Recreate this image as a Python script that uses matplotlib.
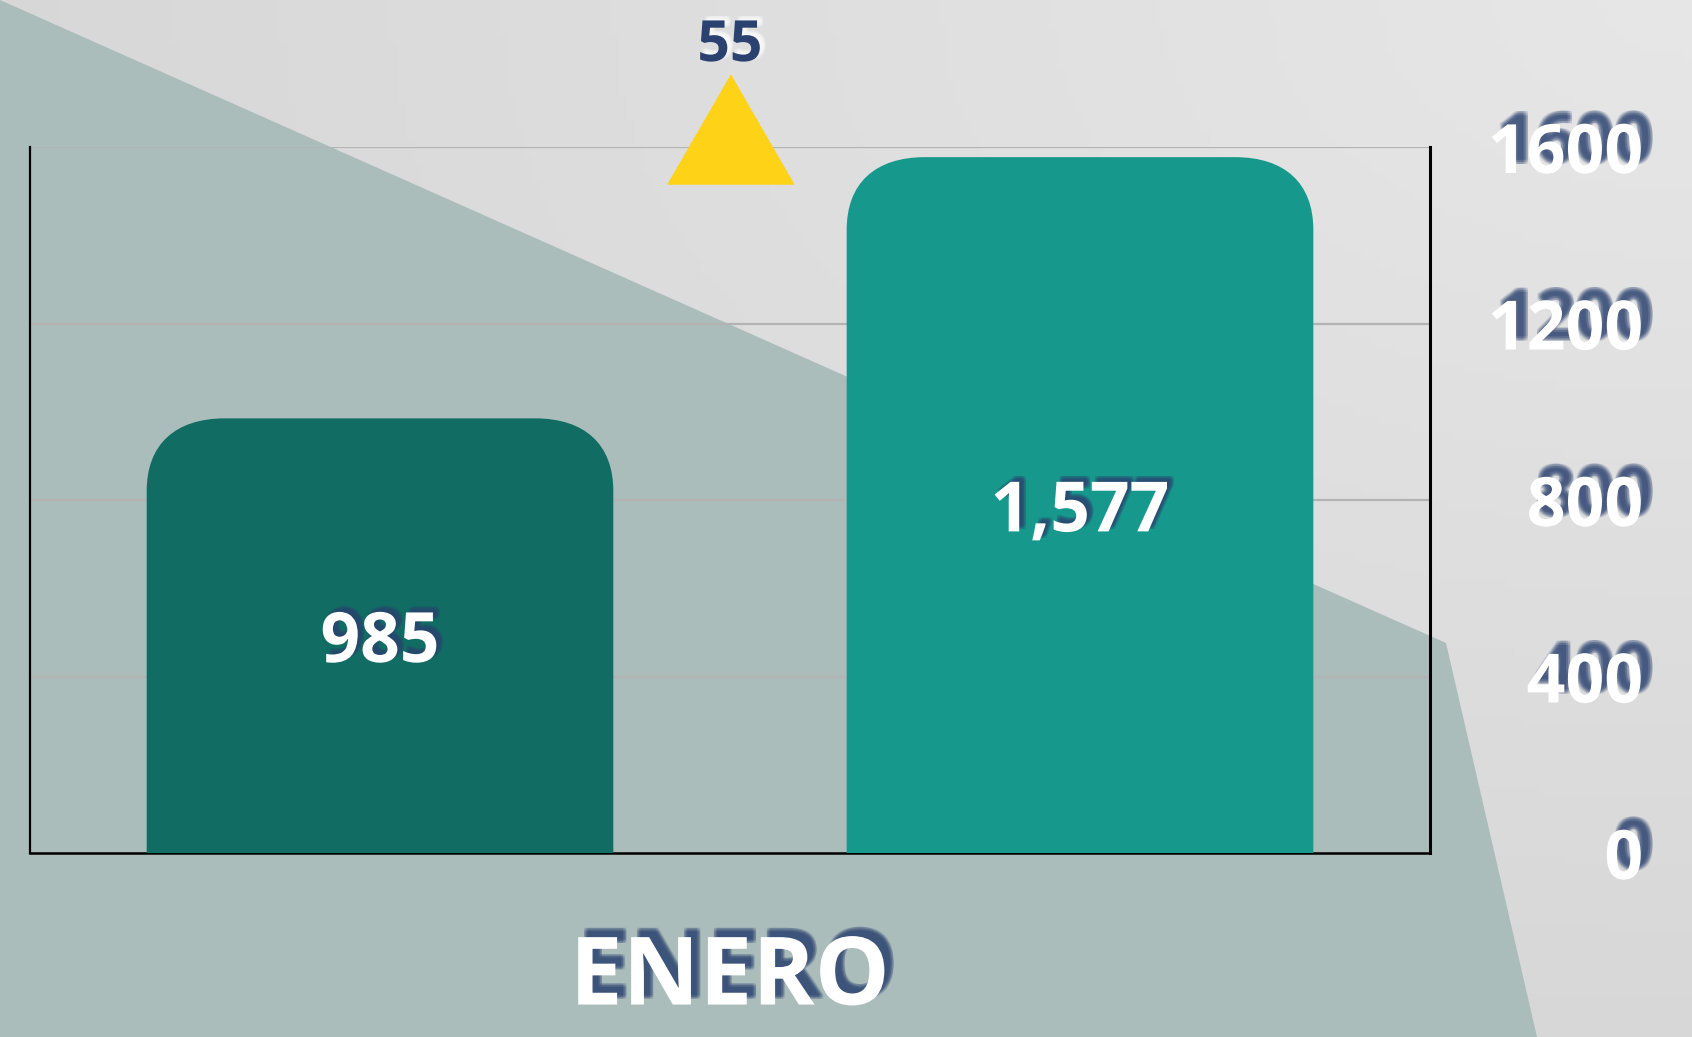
import numpy as np
import matplotlib
matplotlib.use('Agg')
import matplotlib.pyplot as plt
import matplotlib.patheffects as pe
from matplotlib.path import Path
from matplotlib.patches import PathPatch, Polygon

plt.rcParams['font.family'] = ['Open Sans', 'DejaVu Sans']
plt.rcParams['font.weight'] = 'bold'

# data
categories = ['ENERO']
values = [985, 1577]
bar_colors = ['#116d63', '#17988c']
delta = 55
yticks = [0, 400, 800, 1200, 1600]

navy = '#2b4270'


def shadow(dx, dy, color, spread=1.2, alpha=0.18):
    # fake a blurred drop shadow with a few jittered copies
    fx = []
    for jx in (-spread, 0, spread):
        for jy in (-spread, 0, spread):
            fx.append(pe.SimplePatchShadow(offset=(dx + jx, dy + jy),
                                           shadow_rgbFace=color, alpha=alpha))
    fx.append(pe.Normal())
    return fx


W, H = 1692, 1037
fig = plt.figure(figsize=(W / 100, H / 100), dpi=100)

# background
bg = fig.add_axes([0, 0, 1, 1], zorder=0)
bg.set_xlim(0, W)
bg.set_ylim(H, 0)
bg.axis('off')
xx, yy = np.meshgrid(np.linspace(0, 1, 200), np.linspace(0, 1, 120))
grad = 0.905 - 0.06 * np.sqrt((1 - xx) ** 2 + yy ** 2)
bg.imshow(np.dstack([grad, grad, grad]), extent=[0, W, H, 0], aspect='auto')
poly = Polygon([(0, 0), (1446, 643), (1537, H), (0, H)], closed=True,
               facecolor='#abbdbb', edgecolor='none')
bg.add_patch(poly)

ax = fig.add_axes([30 / W, 1 - 853 / H, 1400 / W, 706 / H], zorder=2)
ax.set_facecolor('none')

x = np.arange(len(categories))
width = 1 / 3
bars = []
for i, v in enumerate(values):
    off = (i - (len(values) - 1) / 2) * 0.5
    bars.append(ax.bar(x + off, [v], width=width, color=bar_colors[i], zorder=3)[0])

ax.set_xlim(-0.5, 0.5)
ax.set_ylim(0, 1600)

# rounded tops
rx, ry, k = 0.056, 165, 0.64
for b in bars:
    x0, w, h = b.get_x(), b.get_width(), b.get_height()
    verts = [(x0, 0), (x0, h - ry),
             (x0, h - ry + k * ry), (x0 + rx - k * rx, h), (x0 + rx, h),
             (x0 + w - rx, h),
             (x0 + w - rx + k * rx, h), (x0 + w, h - ry + k * ry), (x0 + w, h - ry),
             (x0 + w, 0), (x0, 0)]
    codes = [Path.MOVETO, Path.LINETO,
             Path.CURVE4, Path.CURVE4, Path.CURVE4,
             Path.LINETO,
             Path.CURVE4, Path.CURVE4, Path.CURVE4,
             Path.LINETO, Path.CLOSEPOLY]
    ax.add_patch(PathPatch(Path(verts, codes), facecolor=b.get_facecolor(),
                           edgecolor='none', zorder=3))
    b.set_visible(False)
    ax.annotate(f'{h:,.0f}', (x0 + w / 2, h / 2), xytext=(0, -6),
                textcoords='offset points', ha='center', va='center',
                fontsize=50, color='white', fontweight='bold', zorder=5,
                path_effects=shadow(3.5, 3.0, navy))

# triangle + delta
ax.plot([0], [1641], marker=[(-1, -0.866), (1, -0.866), (0, 0.866)],
        markersize=90.7, color='#fed217', clip_on=False, zorder=4)
ax.text(0, 1763, str(delta), ha='center', va='bottom', fontsize=41,
        color=navy, fontweight='bold', clip_on=False,
        path_effects=shadow(3.0, 2.0, 'white', alpha=0.2))

ax.yaxis.grid(True, color='#b3b3b3', linewidth=1.6, zorder=1)
ax.set_axisbelow(True)
ax.spines['top'].set_visible(False)
ax.spines['left'].set_linewidth(1.6)
ax.spines['bottom'].set_linewidth(1.8)
ax.spines['right'].set_linewidth(2.2)
for s in ('left', 'bottom', 'right'):
    ax.spines[s].set_color('black')

ax.yaxis.tick_right()
ax.set_yticks(yticks)
ax.set_yticklabels([str(t) for t in yticks])
ax.tick_params(axis='y', length=0, pad=153.5, labelsize=49, labelcolor='white')
for lab in ax.get_yticklabels():
    lab.set_horizontalalignment('right')
    lab.set_fontweight('bold')
    lab.set_path_effects(shadow(7.0, 8.0, navy, spread=1.5))

ax.set_xticks(x)
ax.set_xticklabels(categories)
ax.tick_params(axis='x', length=0, pad=58, labelsize=68, labelcolor='white')
for lab in ax.get_xticklabels():
    lab.set_fontweight('bold')
    lab.set_path_effects(shadow(5.5, 5.5, navy))

fig.savefig('out.png', dpi=100)
